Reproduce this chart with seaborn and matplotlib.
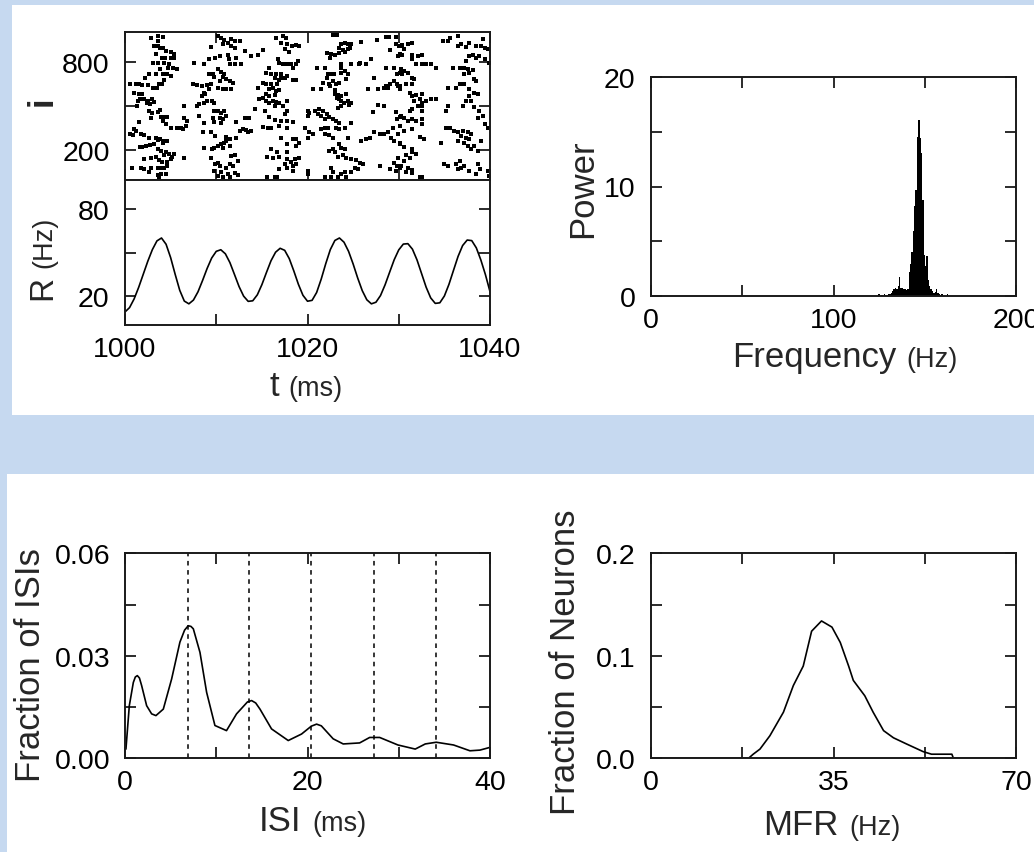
import numpy as np
import matplotlib
matplotlib.use("Agg")
import matplotlib.pyplot as plt
from matplotlib.patches import Rectangle
import seaborn as sns

sns.set_style("ticks")
plt.rcParams["font.family"] = ["Liberation Sans", "DejaVu Sans"]

# ---------------- data ----------------
# raster: (spike time in ms, neuron index)
spikes = [
    (1002.8,962),(1003.6,973),(1004.2,967),(1003.6,940),(1003.2,906),(1003.6,906),(1003.8,895),(1004.2,890),
    (1004.5,872),(1005.0,867),(1005.4,850),(1003.4,850),(1004.0,827),(1004.4,827),(1005.0,827),(1005.4,827),
    (1003.1,789),(1003.6,789),(1004.3,789),(1004.8,782),(1003.8,748),(1004.7,755),(1005.3,755),(1005.7,748),
    (1003.4,719),(1004.2,714),(1004.6,714),(1005.0,703),(1002.6,714),(1002.2,692),(1004.3,674),(1003.7,647),
    (1004.0,647),(1003.1,620),(1003.5,620),(1000.6,647),(1001.2,651),(1001.5,651),(1001.9,642),(1002.5,642),
    (1001.0,591),(1001.5,579),(1001.9,579),(1001.6,546),(1002.1,546),(1001.4,534),(1002.5,534),(1003.0,546),
    (1003.2,530),(1002.4,523),(1002.7,512),(1001.3,501),(1002.6,467),(1003.0,456),(1003.6,462),(1003.8,471),
    (1003.9,426),(1004.3,426),(1004.6,426),(1002.8,422),(1004.2,399),(1004.5,377),(1001.5,395),(1005.0,354),
    (1005.7,354),(1006.1,350),(1006.7,366),(1006.4,343),(1001.0,343),(1001.2,332),(1000.6,309),(1000.9,305),
    (1001.7,309),(1002.1,305),(1002.6,287),(1003.4,287),(1003.6,269),(1003.8,276),(1004.3,264),(1004.6,264),
    (1004.2,253),(1001.6,224),(1001.9,224),(1002.3,231),(1002.7,237),(1003.2,246),(1003.6,208),(1003.9,197),
    (1004.5,192),(1004.8,179),(1005.4,174),(1005.2,156),(1004.3,170),(1003.4,156),(1002.8,148),(1003.7,134),
    (1004.1,125),(1004.6,125),(1005.0,141),(1006.5,148),(1002.1,141),(1000.8,80),(1001.7,84),(1002.1,73),
    (1002.8,80),(1003.6,84),(1003.9,80),(1004.3,84),(1004.6,96),(1002.6,51),(1003.6,35),(1003.9,39),
    (1004.5,39),(1003.7,17),
    (1009.4,899),(1009.2,816),(1009.9,827),(1007.6,789),(1008.7,787),(1009.2,719),(1009.6,714),(1009.8,697),
    (1007.4,647),(1007.9,642),(1008.4,636),(1009.0,642),(1009.4,647),(1009.2,613),(1008.7,591),(1008.4,568),
    (1008.8,579),(1009.0,534),(1009.5,534),(1008.7,523),(1009.8,523),(1008.1,516),(1006.5,501),(1007.9,501),
    (1009.8,467),(1008.1,433),(1009.6,422),(1009.8,395),(1008.7,388),(1006.5,417),(1006.8,399),(1008.5,321),
    (1009.4,321),(1009.9,298),(1008.7,215),(1009.5,208),(1009.8,215),(1009.4,152),(1009.9,111),(1009.8,62),
    (1010.2,973),(1010.5,962),(1010.9,944),(1011.3,928),(1011.6,951),(1012.0,940),(1010.7,917),(1011.6,906),
    (1012.0,895),(1012.6,940),(1010.4,838),(1011.3,845),(1011.4,816),(1012.2,827),(1011.5,782),(1012.0,787),
    (1012.7,787),(1010.2,748),(1010.5,732),(1010.9,714),(1010.7,697),(1011.1,681),(1010.4,670),(1011.5,670),
    (1011.8,658),(1010.2,620),(1010.7,613),(1011.1,613),(1011.6,613),(1013.1,872),(1013.8,838),(1014.6,845),
    (1015.1,876),(1010.2,467),(1010.5,456),(1010.9,467),(1010.4,422),(1010.7,411),(1011.1,433),(1010.5,388),
    (1012.2,395),(1013.1,417),(1013.6,417),(1012.6,332),(1012.9,343),(1013.3,336),(1013.5,321),(1013.8,332),
    (1012.2,287),(1011.1,291),(1011.5,276),(1010.9,253),(1010.5,242),(1010.2,231),(1010.7,219),(1011.5,231),
    (1011.1,264),(1011.6,163),(1012.0,170),(1012.4,129),(1011.5,107),(1011.8,96),(1011.1,84),(1010.4,96),
    (1010.2,118),(1010.5,51),(1011.3,39),(1012.0,44),(1012.4,35),(1010.2,28),(1010.7,17),(1011.5,21),
    (1016.6,962),(1017.3,973),(1017.6,958),(1017.1,928),(1017.7,917),(1018.3,906),(1018.7,912),(1019.1,906),
    (1017.5,883),(1018.0,867),(1016.8,816),(1016.9,793),(1017.3,787),(1017.7,782),(1018.2,787),(1018.7,782),
    (1019.0,805),(1018.4,759),(1015.8,759),(1015.5,726),(1016.0,719),(1016.6,719),(1017.1,719),(1017.8,703),
    (1016.4,692),(1017.1,688),(1017.5,688),(1015.1,658),(1015.5,647),(1016.0,651),(1016.7,651),(1016.9,674),
    (1018.4,674),(1018.7,674),(1014.6,620),(1015.8,613),(1016.2,620),(1016.6,602),(1016.9,606),(1015.5,584),
    (1015.8,568),(1016.4,575),(1015.1,557),(1014.7,546),(1015.5,534),(1016.2,534),(1016.6,530),(1016.9,523),
    (1017.8,534),(1017.3,501),(1016.4,501),(1015.8,523),(1014.2,478),(1015.3,467),(1015.8,426),(1016.4,404),
    (1017.1,399),(1017.8,399),(1018.4,395),(1017.5,444),(1017.8,467),(1020.0,467),(1015.1,359),(1015.7,350),
    (1016.0,354),(1016.9,366),(1017.8,354),(1019.7,354),(1020.0,287),(1017.1,287),(1017.7,242),(1018.4,276),
    (1018.7,276),(1019.1,253),(1018.7,231),(1016.0,208),(1015.6,156),(1016.2,148),(1016.9,156),(1016.7,186),
    (1017.7,192),(1017.8,141),(1018.2,125),(1018.6,141),(1018.7,107),(1018.4,96),(1019.1,152),(1016.9,73),
    (1017.8,84),(1018.4,62),(1017.5,111),(1015.6,17),(1016.4,21),(1016.7,17),(1020.0,62),(1020.0,39),
    (1022.8,980),(1023.2,980),(1023.7,917),(1024.1,928),(1024.4,922),(1024.8,917),(1023.4,895),(1023.9,876),
    (1024.4,883),(1024.7,890),(1025.9,935),(1027.6,944),(1028.6,967),(1028.9,967),(1029.7,967),(1029.7,917),
    (1030.0,906),(1029.0,876),(1029.9,838),(1022.1,861),(1022.6,854),(1022.5,827),(1023.0,845),(1023.5,861),
    (1024.1,867),(1023.7,782),(1023.7,755),(1023.7,726),(1024.1,737),(1024.8,787),(1025.6,782),(1025.7,789),
    (1026.4,782),(1027.0,816),(1021.0,755),(1021.9,755),(1022.2,719),(1022.6,719),(1022.9,719),(1022.1,692),
    (1024.4,719),(1027.3,688),(1028.6,755),(1029.5,755),(1029.8,714),(1030.1,726),(1029.5,670),(1029.8,647),
    (1029.0,647),(1028.6,636),(1021.7,658),(1022.4,651),(1022.8,670),(1023.1,647),(1023.5,658),(1022.5,636),
    (1024.2,681),(1020.6,613),(1021.5,613),(1023.0,606),(1026.6,613),(1027.7,613),(1028.4,620),(1028.8,620),
    (1029.9,636),(1030.1,613),(1023.0,579),(1023.3,575),(1023.7,568),(1024.2,584),(1023.2,557),(1023.5,546),
    (1023.7,534),(1024.4,534),(1024.0,523),(1024.8,523),(1024.6,507),(1023.7,501),(1023.3,485),(1020.8,467),
    (1021.3,478),(1021.7,467),(1021.1,444),(1021.5,433),(1022.1,444),(1022.4,426),(1022.8,411),(1021.9,411),
    (1023.1,399),(1023.5,388),(1020.2,456),(1020.1,433),(1021.5,343),(1021.9,354),(1022.2,350),(1023.1,354),
    (1023.5,343),(1024.1,354),(1024.8,388),(1020.2,321),(1020.6,309),(1021.9,309),(1022.4,305),(1022.8,287),
    (1027.2,462),(1027.7,507),(1028.4,501),(1029.7,462),(1029.8,411),(1030.1,426),(1027.3,321),(1027.9,309),
    (1028.4,309),(1028.8,321),(1029.2,287),(1029.9,309),(1029.4,354),(1029.5,264),(1030.1,253),(1025.9,264),
    (1026.4,276),(1026.8,287),(1024.4,282),(1023.5,242),(1023.7,219),(1022.8,208),(1022.4,197),(1023.0,186),
    (1024.1,208),(1023.9,170),(1023.3,156),(1024.2,152),(1024.8,141),(1025.3,134),(1025.7,118),(1026.1,111),
    (1025.2,84),(1025.5,73),(1024.8,51),(1022.6,80),(1022.8,51),(1023.7,39),(1024.1,51),(1021.9,17),
    (1022.6,17),(1023.3,21),(1024.2,17),(1027.9,96),(1029.0,73),(1029.5,118),(1029.9,152),(1029.8,96),
    (1030.1,84),(1029.7,62),
    (1030.1,906),(1030.4,912),(1031.0,917),(1031.4,928),(1030.6,883),(1030.1,850),(1030.4,845),(1031.5,845),
    (1032.1,838),(1032.6,845),(1031.4,816),(1031.9,782),(1032.5,787),(1033.0,782),(1033.5,787),(1034.1,759),
    (1030.3,748),(1030.6,737),(1031.0,726),(1030.4,714),(1031.4,692),(1031.7,681),(1030.1,636),(1030.8,651),
    (1031.5,647),(1031.2,591),(1031.5,568),(1031.9,575),(1032.5,579),(1031.7,534),(1032.3,546),(1032.6,523),
    (1033.0,534),(1033.5,546),(1034.1,546),(1032.1,501),(1032.6,501),(1032.5,467),(1031.5,478),(1031.2,467),
    (1030.3,433),(1030.6,417),(1031.0,399),(1031.5,411),(1031.9,399),(1032.5,411),(1032.6,377),(1030.1,366),
    (1030.6,332),(1031.4,343),(1032.3,291),(1032.8,276),(1030.1,242),(1030.6,224),(1031.4,208),(1031.5,186),
    (1031.9,174),(1030.8,170),(1031.2,152),(1030.6,129),(1030.3,96),(1031.0,84),(1031.4,66),(1030.8,51),
    (1031.5,44),(1032.3,17),(1032.6,17),
    (1034.8,940),(1035.4,940),(1035.6,962),(1036.5,973),(1036.8,922),(1037.7,928),(1038.5,906),(1039.0,906),
    (1039.2,951),(1039.5,895),(1039.8,883),(1037.4,899),(1036.5,906),(1037.7,838),(1038.1,845),(1038.5,827),
    (1038.8,838),(1039.4,816),(1039.9,793),(1037.4,805),(1035.9,759),(1036.7,755),(1037.2,759),(1037.6,748),
    (1038.1,741),(1037.7,726),(1037.2,714),(1038.3,681),(1038.5,670),(1035.4,625),(1036.3,625),(1036.7,647),
    (1037.2,647),(1037.7,613),(1038.3,591),(1038.7,579),(1037.7,568),(1037.4,534),(1037.9,534),(1037.0,501),
    (1038.3,490),(1038.8,467),(1039.2,433),(1038.7,422),(1039.4,377),(1039.8,354),(1035.4,501),(1035.2,467),
    (1035.2,354),(1035.6,354),(1036.1,332),(1036.5,321),(1037.0,332),(1037.6,321),(1037.9,309),(1036.8,298),
    (1037.4,287),(1037.7,276),(1036.5,264),(1037.2,253),(1037.6,231),(1038.3,231),(1039.0,264),(1037.9,208),
    (1038.7,197),(1034.6,253),(1035.0,107),(1035.4,96),(1036.3,107),(1036.7,129),(1036.8,84),(1037.2,96),
    (1036.5,73),(1037.7,62),(1038.7,107),(1038.9,73),(1038.5,39),(1039.8,62),(1039.9,28),
]
spike_t = [s[0] for s in spikes]
spike_i = [s[1] for s in spikes]

# population rate R(t), sampled every 0.5 ms
rate_t = [1000.0 + 0.5 * k for k in range(81)]
rate_hz = [9, 12, 18, 26, 35, 44, 52, 58, 60, 55.7, 46.5, 34.9, 23.9, 16.5, 14.6,
           17.2, 22.9, 30.7, 39.0, 46.2, 50.8, 51.9, 49.1, 43.0, 34.8, 26.5, 19.9, 16.3,
           16.7, 20.8, 27.8, 36.2, 44.3, 50.2, 52.9, 51.5, 45.8, 37.3, 28.1, 20.5, 16.4,
           17.0, 22.4, 31.6, 42.3, 52.0, 58.3, 60.0, 57.1, 50.8, 42.1, 32.4, 23.7, 17.4,
           14.6, 15.7, 20.3, 27.7, 36.4, 45.0, 51.8, 55.8, 56.1, 52.3, 44.9, 35.5, 26.1,
           18.7, 14.9, 15.3, 20.0, 28.0, 37.7, 47.3, 54.8, 58.6, 58.2, 53.2, 44.8, 34.7, 23.0]

# power spectrum of R
spec_freq = [124.25 + 0.75 * k for k in range(53)]
spec_power = [0.0, 0.2, 0.0, 0.05, 0.0, 0.2, 0.05, 0.1, 0.2, 0.15, 0.3, 0.5, 0.65, 0.75,
              0.6, 0.9, 1.75, 0.7, 0.75, 0.6, 0.6, 0.55, 0.6, 2.2, 2.9, 4.0, 5.9, 8.2, 9.7,
              14.5, 16.1, 14.4, 13.1, 8.8, 3.7, 2.7, 3.65, 1.5, 0.9, 0.6, 0.45, 0.3, 0.35,
              0.67, 0.25, 0.2, 0.05, 0.15, 0.0, 0.0, 0.0, 0.15, 0.0]

# ISI distribution
isi_ms = [0.07, 0.44, 0.88, 1.1, 1.32, 1.55, 1.79, 2.34, 2.89, 3.36, 4.17, 5.08, 5.99, 6.5,
          6.9, 7.2, 7.46, 8.19, 8.92, 9.83, 11.1, 12.2, 13.4, 13.85, 14.3, 14.77, 16.04,
          17.87, 19.33, 20.4, 20.98, 21.5, 22.8, 23.9, 25.7, 26.8, 27.9, 29.9, 31.8, 32.9,
          34.1, 36.0, 37.8, 38.9, 40.0]
isi_frac = [0.0027, 0.0154, 0.0222, 0.0238, 0.0242, 0.0235, 0.0213, 0.0154, 0.0130, 0.0125,
            0.0144, 0.0232, 0.034, 0.0375, 0.0388, 0.0386, 0.0379, 0.031, 0.0193, 0.0096,
            0.0081, 0.013, 0.0165, 0.0169, 0.0162, 0.0144, 0.0086, 0.0052, 0.0071, 0.0094,
            0.010, 0.0095, 0.0057, 0.0042, 0.0045, 0.0061, 0.0061, 0.0039, 0.0027, 0.0042,
            0.0047, 0.0039, 0.0022, 0.0024, 0.0032]
isi_multiples = [6.9, 13.6, 20.4, 27.3, 34.1]

# mean firing rate distribution
mfr_hz = [1.1, 18.7, 19.6, 20.9, 22.8, 25.4, 27.3, 29.2, 30.8, 32.7, 34.7, 36.3, 37.9,
          38.8, 41.0, 42.6, 44.6, 46.5, 49.0, 52.2, 53.8, 57.7, 58.0, 69.5]
mfr_frac = [0.0, 0.0, 0.004, 0.009, 0.022, 0.045, 0.071, 0.09, 0.124, 0.134, 0.128, 0.113,
            0.09, 0.076, 0.061, 0.045, 0.027, 0.02, 0.014, 0.0065, 0.004, 0.004, 0.0, 0.0]

# ---------------- figure ----------------
W, H = 1034, 853
fig = plt.figure(figsize=(W / 100, H / 100), dpi=100)
fig.patch.set_facecolor("#C6D9F0")


def fx(x):
    return x / W


def fy(y):
    return 1 - y / H


def axes_px(x0, y0, x1, y1):
    return fig.add_axes([fx(x0), fy(y1), fx(x1) - fx(x0), (y1 - y0) / H])


# white panels
fig.add_artist(Rectangle((fx(12), fy(416)), 1, (416 - 6) / H, transform=fig.transFigure,
                         facecolor="white", edgecolor="none", zorder=-5))
fig.add_artist(Rectangle((fx(7), 0), 1, (853 - 475) / H, transform=fig.transFigure,
                         facecolor="white", edgecolor="none", zorder=-5))

TICK_FS = 20.5
LAB_FS = 25
UNIT_FS = 19.5
INK = "#1a1a1a"


def style(ax, top=True):
    for sp in ax.spines.values():
        sp.set_linewidth(1.4)
        sp.set_color(INK)
        sp.set_visible(True)
    ax.tick_params(direction="in", length=8, width=1.3, color=INK,
                   top=top, right=True, labelsize=TICK_FS, labelcolor="black")
    ax.tick_params(axis="x", pad=8)
    ax.tick_params(axis="y", pad=11)
    ax.set_xlabel("")
    ax.set_ylabel("")
    ax.set_facecolor("white")


ax_ras = axes_px(125, 33, 490, 181)
ax_r = axes_px(125, 181, 490, 326)
ax_sp = axes_px(651, 78, 1016, 297)
ax_isi = axes_px(125.3, 554.3, 490, 759.3)
ax_mfr = axes_px(651, 554.3, 1016, 759.3)

# raster
sns.scatterplot(x=spike_t, y=spike_i, ax=ax_ras, marker="s", s=5, color="black",
                linewidth=0, legend=False)
ax_ras.set_xlim(1000, 1040)
ax_ras.set_ylim(0, 1000)
ax_ras.set_yticks([200, 500, 800], ["200", "", "800"])
ax_ras.set_xticks([1000, 1010, 1020, 1030, 1040], [""] * 5)
style(ax_ras)

# rate
sns.lineplot(x=rate_t, y=rate_hz, ax=ax_r, color="black", linewidth=1.2)
ax_r.set_xlim(1000, 1040)
ax_r.set_ylim(0, 100)
ax_r.set_yticks([20, 50, 80], ["20", "", "80"])
ax_r.set_xticks([1000, 1010, 1020, 1030, 1040], ["1000", "", "1020", "", "1040"])
style(ax_r, top=False)

# power spectrum
ax_sp.bar(spec_freq, spec_power, width=0.75, color="black", linewidth=0)
ax_sp.set_xlim(0, 200)
ax_sp.set_ylim(0, 20)
ax_sp.set_xticks([0, 50, 100, 150, 200], ["0", "", "100", "", "200"])
ax_sp.set_yticks([0, 5, 10, 15, 20], ["0", "", "10", "", "20"])
style(ax_sp)

# ISI distribution
for xm in isi_multiples:
    ax_isi.axvline(xm, color="black", linewidth=1.1, linestyle=(0, (3, 3)))
sns.lineplot(x=isi_ms, y=isi_frac, ax=ax_isi, color="black", linewidth=1.2)
ax_isi.set_xlim(0, 40)
ax_isi.set_ylim(0, 0.06)
ax_isi.set_xticks([0, 10, 20, 30, 40], ["0", "", "20", "", "40"])
ax_isi.set_yticks([0, 0.015, 0.03, 0.045, 0.06], ["0.00", "", "0.03", "", "0.06"])
style(ax_isi)

# MFR distribution
sns.lineplot(x=mfr_hz, y=mfr_frac, ax=ax_mfr, color="black", linewidth=1.2)
ax_mfr.set_xlim(0, 70)
ax_mfr.set_ylim(0, 0.2)
ax_mfr.set_xticks([0, 17.5, 35, 52.5, 70], ["0", "", "35", "", "70"])
ax_mfr.set_yticks([0, 0.05, 0.1, 0.15, 0.2], ["0.0", "", "0.1", "", "0.2"])
style(ax_mfr)


# ---------------- labels (name large, unit small) ----------------
def xlabel(name, unit, x_split, y_base, gap=9):
    fig.text(fx(x_split), fy(y_base), name, fontsize=LAB_FS, ha="right", va="baseline")
    fig.text(fx(x_split + gap), fy(y_base), unit, fontsize=UNIT_FS, ha="left", va="baseline")


xlabel("t", "(ms)", 279, 396)
xlabel("Frequency", "(Hz)", 896, 367, gap=10)
xlabel("ISI", "(ms)", 301, 831, gap=11)
xlabel("MFR", "(Hz)", 838, 835, gap=11)


def ylabel(text, x_base, y, size=LAB_FS, ha="center", weight="normal"):
    fig.text(fx(x_base), fy(y), text, fontsize=size, rotation=90, rotation_mode="anchor",
             ha=ha, va="baseline", fontweight=weight)


ylabel("Power", 592, 189)
ylabel("Fraction of ISIs", 40, 665)
ylabel("Fraction of Neurons", 575, 662)
ylabel("i", 52, 101, weight="bold")
ylabel("R", 51, 300, size=24, ha="left")
ylabel("(Hz)", 51, 268, size=UNIT_FS, ha="left")

fig.savefig("out.png", dpi=100, facecolor=fig.get_facecolor())
